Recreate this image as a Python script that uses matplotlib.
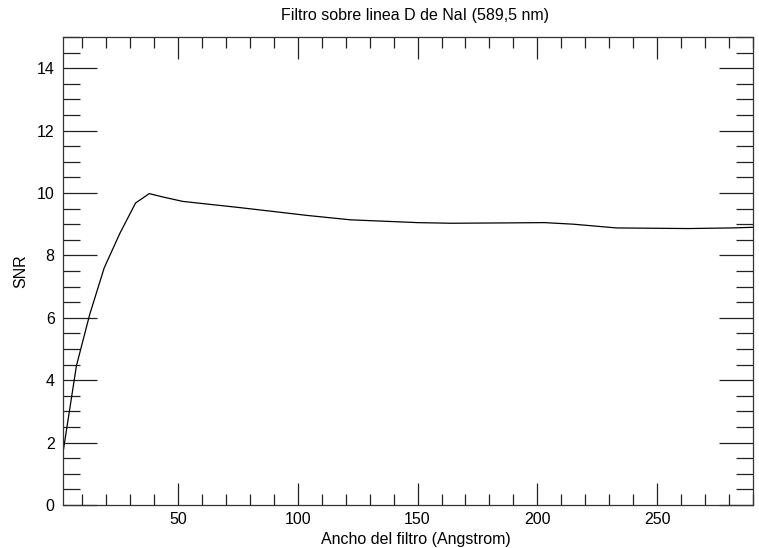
import matplotlib
matplotlib.use("Agg")
import matplotlib.pyplot as plt
from matplotlib.ticker import MultipleLocator

# Filter width (Angstrom) and signal-to-noise ratio
ancho = [2, 7.6, 13.2, 19.2, 25.7, 32.3, 38, 43.8, 52, 76, 104, 122,
         150, 164, 185, 203, 215, 233, 263, 281, 290]
snr = [1.68, 4.46, 6.12, 7.6, 8.7, 9.68, 9.98, 9.87, 9.73, 9.53, 9.28, 9.14,
       9.05, 9.03, 9.04, 9.05, 9.0, 8.88, 8.86, 8.88, 8.9]

plt.rcParams['font.family'] = ['Liberation Sans', 'DejaVu Sans']

fig = plt.figure(figsize=(7.59, 5.48), dpi=100)
ax = fig.add_axes([0.083, 0.0785, 0.909, 0.854])

ax.plot(ancho, snr, color='black', linewidth=0.9)

ax.set_xlim(2, 290)
ax.set_ylim(0, 15)

ax.xaxis.set_major_locator(MultipleLocator(50))
ax.xaxis.set_minor_locator(MultipleLocator(10))
ax.yaxis.set_major_locator(MultipleLocator(2))
ax.yaxis.set_minor_locator(MultipleLocator(0.5))

ax.tick_params(axis='both', which='both', direction='in',
               top=True, right=True, width=0.9, colors='#222222',
               labelsize=11.5, labelcolor='black')
ax.tick_params(axis='x', which='major', length=15.8, pad=5)
ax.tick_params(axis='x', which='minor', length=7.9)
ax.tick_params(axis='y', which='major', length=24.5, pad=6)
ax.tick_params(axis='y', which='minor', length=12.2)

for s in ax.spines.values():
    s.set_linewidth(0.9)
    s.set_color('#333333')

ax.set_xlabel('Ancho del filtro (Angstrom)', fontsize=11.5, labelpad=0)
ax.xaxis.set_label_coords(0.512, -0.058)
ax.set_ylabel('SNR', fontsize=11.5)
ax.yaxis.set_label_coords(-0.051, 0.5)
ax.set_title('Filtro sobre linea D de NaI (589,5 nm)', fontsize=11.5,
             x=0.51, pad=12)

fig.savefig('out.png', dpi=100, facecolor='white')
